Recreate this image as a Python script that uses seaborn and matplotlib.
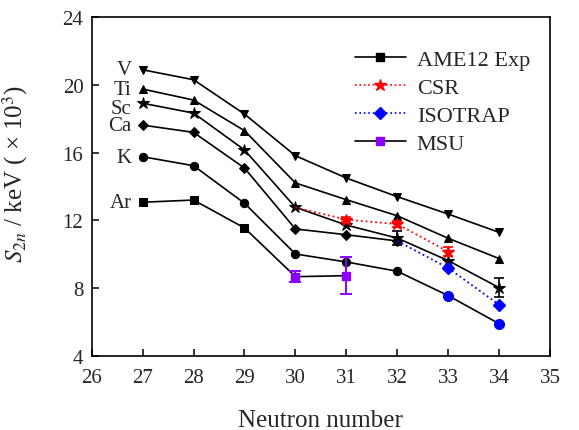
import matplotlib
matplotlib.use("Agg")
import matplotlib.pyplot as plt
import seaborn as sns
import numpy as np
import pandas as pd
from matplotlib.lines import Line2D

# ---- data (S2n in MeV, i.e. keV x 10^3) ----
N_all = [27, 28, 29, 30, 31, 32, 33, 34]
V_vals = [20.90, 20.31, 18.28, 15.82, 14.50, 13.40, 12.37, 11.29]
Ti_vals = [19.76, 19.11, 17.30, 14.21, 13.22, 12.27, 10.94, 9.74]
Sc_vals = [18.92, 18.34, 16.16, 12.77, 11.72, 10.95, 9.62, 8.02]
Sc_err = [0, 0, 0, 0, 0, 0.40, 0, 0.55]
Ca_N = [27, 28, 29, 30, 31, 32]
Ca_vals = [17.63, 17.20, 15.09, 11.49, 11.15, 10.78]
K_vals = [15.76, 15.23, 13.01, 10.01, 9.54, 8.99, 7.55, 5.89]
Ar_N = [27, 28, 29]
Ar_vals = [13.07, 13.20, 11.55]

CSR_N = [30, 31, 32, 33]
CSR_vals = [12.77, 12.04, 11.78, 10.15]
CSR_err = [0, 0.15, 0.20, 0.25]
ISO_N = [32, 33, 34]
ISO_vals = [10.78, 9.18, 7.01]
MSU_N = [30, 31]
MSU_vals = [8.67, 8.73]
MSU_err = [0.33, 1.08]

labels = ["V", "Ti", "Sc", "Ca", "K", "Ar"]
label_y = [20.9, 19.72, 18.62, 17.6, 15.72, 13.07]

sns.set_style("ticks")
plt.rcParams["font.family"] = ["Liberation Serif", "DejaVu Serif"]
plt.rcParams["mathtext.fontset"] = "stix"
plt.rcParams["xtick.direction"] = "in"
plt.rcParams["ytick.direction"] = "in"

fig = plt.figure(figsize=(5.79, 4.31), dpi=100)
ax = fig.add_axes([0.1584, 0.1724, 0.7916, 0.7851])

ms = 6
lw = 1.2
common = dict(ax=ax, lw=lw, markersize=ms, legend=False)

sns.lineplot(x=N_all, y=V_vals, color="k", marker="v", mec="k", **common)
sns.lineplot(x=N_all, y=Ti_vals, color="k", marker="^", mec="k", **common)
sns.lineplot(x=N_all, y=Sc_vals, color="k", marker="*", mec="k", markersize=9,
             ax=ax, lw=lw, legend=False)
sns.lineplot(x=Ca_N, y=Ca_vals, color="k", marker="D", mec="k", markersize=5.5,
             ax=ax, lw=lw, legend=False)
# K line: black markers up to N=32, blue (ISOTRAP) at 33, 34
sns.lineplot(x=N_all, y=K_vals, color="k", marker="o", mec="k",
             markevery=[0, 1, 2, 3, 4, 5], **common)
ax.plot(N_all[6:], K_vals[6:], ls="none", marker="o", color="#0000ff",
        mec="#0000ff", markersize=7, zorder=5)
# Ar line continues into MSU points
sns.lineplot(x=Ar_N + MSU_N, y=Ar_vals + MSU_vals, color="k", marker="s",
             mec="k", markevery=[0, 1, 2], markersize=5.5, ax=ax, lw=lw,
             legend=False)

# Sc error bars
Sc_N_e = [n for n, e in zip(N_all, Sc_err) if e > 0]
Sc_v_e = [v for v, e in zip(Sc_vals, Sc_err) if e > 0]
Sc_e = [e for e in Sc_err if e > 0]
ax.errorbar(Sc_N_e, Sc_v_e, yerr=Sc_e, fmt="none", ecolor="k", elinewidth=1.2,
            capsize=3.5, capthick=1.2)

# CSR
sns.lineplot(x=CSR_N, y=CSR_vals, color="#ff0000", ls=":", lw=1.3, ax=ax,
             legend=False)
ax.errorbar(CSR_N[1:], CSR_vals[1:], yerr=CSR_err[1:], fmt="*", color="#ff0000",
            mec="#ff0000", markersize=9, elinewidth=1.2, capsize=3.5,
            capthick=1.2, zorder=6)

# ISOTRAP
sns.lineplot(x=ISO_N, y=ISO_vals, color="#0000ff", ls=":", lw=1.3, ax=ax,
             legend=False)
ax.plot(ISO_N[1:], ISO_vals[1:], ls="none", marker="D", color="#0000ff",
        mec="#0000ff", markersize=6, zorder=6)

# MSU
ax.errorbar(MSU_N, MSU_vals, yerr=MSU_err, fmt="s", color="#8a00ff",
            mec="#8a00ff", markersize=6, elinewidth=1.4, capsize=4,
            capthick=1.4, zorder=6)

# element labels
for lab, yy in zip(labels, label_y):
    ax.text(26.78, yy, lab, ha="right", va="center", fontsize=15)

# legend handles
handles = [
    Line2D([], [], color="k", lw=lw, marker="s", markersize=5.5),
    Line2D([], [], color="#ff0000", lw=1.2, ls=":", marker="*", markersize=9),
    Line2D([], [], color="#0000ff", lw=1.2, ls=":", marker="D", markersize=6),
    Line2D([], [], color="k", lw=lw, marker="s", mfc="#8a00ff", mec="#8a00ff",
           markersize=6),
]
ax.legend(handles, ["AME12 Exp", "CSR", "ISOTRAP", "MSU"], loc="upper right",
          bbox_to_anchor=(1.0, 0.965), frameon=False, fontsize=16,
          handlelength=2.3, handletextpad=0.5, labelspacing=0.34)

ax.set_xlim(26, 35)
ax.set_ylim(4, 24)
ax.set_xticks(range(26, 36))
ax.set_yticks([4, 8, 12, 16, 20, 24])
ax.tick_params(axis="both", labelsize=15, length=5, width=1.1, color="k",
               top=False, right=False, pad=6)
ax.tick_params(axis="x", pad=9)
for s in ax.spines.values():
    s.set_linewidth(1.2)
    s.set_color("k")

ax.set_xlabel("Neutron number", fontsize=18, labelpad=16)
ax.set_ylabel(r"$S_{2n}$ / keV ( × 10$^3$)", fontsize=18)
ax.yaxis.set_label_coords(-0.135, 0.54)

fig.savefig("out.png", dpi=100)
